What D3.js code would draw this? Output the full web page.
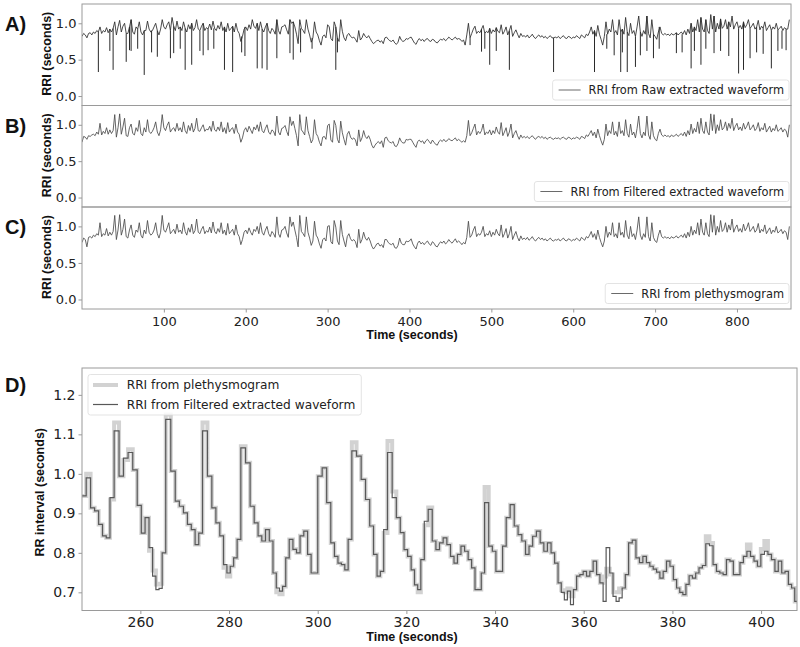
<!DOCTYPE html>
<html><head><meta charset="utf-8">
<script src="https://cdn.jsdelivr.net/npm/d3@7"></script>
<style>body{margin:0;background:#fff} svg{display:block}</style>
</head><body>
<svg id="chart" width="800" height="647"></svg>
<script>
// ---------------- DATA ----------------
// Panels A–C: RRI sampled every 2 s from t = 0 s
const overviewStep = 2;
const rriRaw = [
0.82,0.86,0.84,0.80,0.86,0.87,0.84,0.88,0.86,0.90,
0.88,0.95,0.86,0.90,0.88,0.94,0.87,0.92,0.88,0.93,
1.02,0.84,0.95,1.04,0.88,0.96,1.00,0.86,0.86,0.95,
1.05,0.88,0.85,0.95,0.92,1.02,0.88,0.84,0.90,0.90,
1.03,0.92,0.88,0.90,0.95,1.00,0.90,0.84,0.92,1.05,
0.95,0.92,0.98,1.02,0.90,1.08,0.96,0.90,1.03,0.92,
0.95,0.90,1.02,0.93,0.88,0.98,0.92,1.00,0.90,0.94,
1.05,0.92,0.90,0.96,1.00,0.90,0.94,0.92,0.99,0.91,
1.03,0.93,0.90,0.97,0.92,1.02,0.90,0.95,0.88,1.00,
0.90,0.93,0.96,0.88,1.00,0.90,0.86,0.75,0.82,0.92,
0.95,0.90,0.98,0.92,1.05,0.96,0.93,1.00,0.90,1.02,
0.92,0.88,0.95,1.00,0.90,0.86,0.93,0.90,0.85,1.05,
0.90,0.85,0.95,0.96,0.98,0.91,0.85,1.05,1.00,1.02,
0.95,0.85,0.72,1.05,0.93,0.90,0.86,1.05,0.92,0.84,
0.74,0.80,1.02,0.88,0.84,0.76,0.70,0.82,0.84,0.80,
0.98,0.95,0.79,0.76,1.02,0.95,0.80,0.75,1.05,0.89,
0.80,0.76,0.84,0.86,0.82,0.80,0.81,0.78,0.74,0.90,
0.77,0.80,0.86,0.82,0.80,0.83,0.79,0.75,0.72,0.74,
0.76,0.77,0.74,0.76,0.72,0.80,0.81,0.78,0.76,0.75,
0.77,0.73,0.71,0.74,0.82,0.77,0.75,0.76,0.79,0.78,
0.80,0.81,0.77,0.73,0.71,0.76,0.79,0.76,0.78,0.75,
0.78,0.79,0.76,0.75,0.78,0.77,0.74,0.73,0.76,0.78,
0.77,0.79,0.76,0.78,0.81,0.79,0.77,0.79,0.81,0.78,
0.79,0.78,0.75,0.77,0.70,0.84,1.00,0.80,0.86,0.92,
0.96,0.86,0.89,0.87,0.92,0.97,0.86,0.89,0.87,0.93,
0.86,0.91,0.88,0.94,0.89,0.87,0.98,0.85,0.89,0.95,
0.84,0.90,0.97,0.82,0.87,0.91,0.85,0.80,0.86,0.82,
0.83,0.81,0.84,0.80,0.82,0.85,0.81,0.79,0.82,0.84,
0.81,0.83,0.80,0.82,0.79,0.81,0.83,0.80,0.80,0.81,
0.80,0.82,0.79,0.81,0.83,0.80,0.79,0.82,0.81,0.79,
0.81,0.80,0.83,0.81,0.79,0.84,0.82,0.80,0.85,0.83,
0.88,0.95,0.85,0.90,0.82,0.97,0.85,0.78,0.70,0.82,
1.02,0.85,0.92,0.88,1.05,0.86,0.90,0.84,1.05,0.88,
0.92,0.85,1.08,0.88,0.83,1.00,0.86,0.90,0.82,0.95,
1.10,0.88,0.82,0.90,0.85,1.10,0.86,0.80,1.05,0.85,
0.82,0.78,0.88,0.95,0.86,0.84,0.86,0.84,0.85,0.83,
0.86,0.84,0.85,0.87,0.84,0.86,0.88,0.85,0.90,0.84,
0.92,0.86,1.00,0.88,0.95,0.90,1.05,0.88,1.08,0.92,
0.88,1.05,0.90,0.86,1.12,0.92,1.10,0.88,1.00,0.92,
1.06,0.93,0.96,1.05,0.92,1.02,0.95,1.10,0.92,0.98,
1.02,0.93,0.97,0.92,1.02,0.94,0.98,1.05,0.93,0.96,
1.00,0.92,0.95,1.04,0.91,0.96,0.93,1.02,0.90,0.94,
0.98,0.90,0.95,0.92,1.00,0.91,0.93,0.96,0.90,0.94,
0.92,0.92,1.05];
// single-beat artefacts in the raw extracted waveform: [time (s), RRI (s)]
const rawArtifactTimes = [20,34,38,54,58,60,68,76,85,92,108,112,120,126,134,144,148,154,161,174,184,195,199,214,220,226,238,254,258,267,281,310,312,
  474,488,492,498,506,522,576,626,641,650,658,660,666,676,682,690,698,705,726,733,744,748,756,762,772,780,790,802,808,816,824,832,842,850,855,860];
const rawArtifactValues = [0.33,0.62,0.36,0.47,0.63,0.62,0.65,0.29,0.60,0.54,0.52,0.59,0.65,0.36,0.43,0.62,0.56,0.63,0.65,0.36,0.33,0.60,0.55,0.38,0.38,0.36,0.52,0.59,0.50,0.60,0.65,0.36,0.60,
  0.70,0.61,0.65,0.43,0.62,0.36,0.33,0.33,0.65,0.56,0.33,0.60,0.33,0.40,0.56,0.62,0.52,0.65,0.59,0.60,0.38,0.62,0.43,0.65,0.59,0.62,0.55,0.31,0.36,0.52,0.60,0.58,0.38,0.62,0.65,0.63];
const rriFiltered = [
0.76,0.84,0.83,0.80,0.85,0.84,0.86,0.87,0.85,0.90,
0.87,1.02,0.86,0.91,0.88,0.96,0.87,0.93,0.88,0.92,
1.14,0.83,0.96,1.15,0.87,0.97,1.09,0.85,0.84,0.96,
1.01,0.88,0.86,0.96,0.91,1.06,0.88,0.85,0.96,0.90,
1.07,0.91,0.88,0.91,0.96,1.04,0.90,0.85,0.93,1.14,
0.96,0.92,0.99,1.04,0.90,0.94,0.96,0.91,1.02,0.92,
0.96,0.90,1.04,0.92,0.88,0.99,0.92,1.02,0.90,0.95,
1.09,0.92,0.91,0.96,1.00,0.91,0.94,0.93,0.98,0.91,
1.05,0.93,0.91,0.97,0.92,1.04,0.90,0.96,0.88,1.03,
0.90,0.94,0.96,0.88,1.01,0.90,0.87,0.76,0.82,0.92,
0.96,0.90,0.98,0.93,0.88,0.97,0.93,1.00,0.91,1.04,
0.92,0.89,0.95,1.00,0.90,0.87,0.93,0.91,0.85,1.12,
0.90,0.86,0.95,0.96,0.99,0.91,0.85,1.11,0.99,1.05,
0.95,0.85,0.71,1.14,0.93,0.90,0.86,1.11,0.92,0.84,
0.75,0.80,1.07,0.88,0.84,0.76,0.71,0.83,0.84,0.80,
0.99,1.01,0.79,0.76,1.06,0.99,0.80,0.75,1.05,0.89,
0.80,0.72,0.87,0.91,0.83,0.80,0.82,0.79,0.71,0.93,
0.77,0.82,0.92,0.84,0.81,0.85,0.80,0.72,0.68,0.72,
0.75,0.77,0.74,0.78,0.69,0.82,0.83,0.78,0.76,0.75,
0.77,0.71,0.70,0.74,0.82,0.77,0.75,0.75,0.80,0.79,
0.80,0.80,0.76,0.72,0.69,0.77,0.79,0.76,0.78,0.74,
0.78,0.80,0.77,0.74,0.79,0.76,0.73,0.72,0.77,0.79,
0.77,0.80,0.77,0.78,0.81,0.79,0.78,0.80,0.82,0.78,
0.80,0.78,0.76,0.78,0.76,0.85,1.06,0.85,0.89,0.95,
1.01,0.86,0.91,0.88,0.92,1.01,0.86,0.90,0.88,0.93,
0.86,0.92,0.88,0.97,0.90,0.87,1.03,0.85,0.90,0.96,
0.84,0.90,1.01,0.82,0.88,0.92,0.85,0.80,0.86,0.82,
0.84,0.82,0.84,0.81,0.83,0.85,0.82,0.80,0.83,0.84,
0.82,0.84,0.81,0.83,0.80,0.82,0.83,0.81,0.80,0.82,
0.81,0.82,0.80,0.82,0.83,0.81,0.80,0.83,0.82,0.80,
0.82,0.81,0.83,0.82,0.80,0.84,0.83,0.81,0.86,0.84,
0.88,0.92,0.85,0.90,0.82,0.94,0.85,0.78,0.72,0.80,
1.01,0.85,0.92,0.88,1.04,0.86,0.91,0.84,1.04,0.88,
0.92,0.85,1.07,0.88,0.83,1.01,0.86,0.90,0.82,0.95,
1.12,0.88,0.82,0.90,0.85,1.12,0.86,0.80,1.04,0.85,
0.80,0.78,0.88,0.94,0.86,0.84,0.86,0.84,0.85,0.83,
0.86,0.84,0.85,0.87,0.84,0.86,0.88,0.85,0.90,0.84,
0.92,0.86,1.01,0.88,0.95,0.90,1.04,0.88,1.09,0.92,
0.88,1.04,0.90,0.86,1.15,0.92,1.14,0.88,1.00,0.92,
1.07,0.93,0.96,1.04,0.92,1.02,0.95,1.09,0.92,0.98,
1.02,0.93,0.97,0.92,1.02,0.94,0.98,1.04,0.93,0.96,
1.00,0.92,0.95,1.03,0.91,0.96,0.93,1.02,0.90,0.94,
0.98,0.90,0.95,0.92,1.00,0.91,0.93,0.96,0.90,0.94,
0.92,0.83,1.00];
const rriPleth = [
0.78,0.84,0.82,0.72,0.85,0.86,0.84,0.88,0.86,0.90,
0.88,1.05,0.86,0.90,0.88,0.97,0.87,0.92,0.88,0.93,
1.15,0.82,0.95,1.16,0.88,0.96,1.10,0.86,0.84,0.95,
1.02,0.88,0.85,0.95,0.92,1.05,0.88,0.84,0.95,0.90,
1.08,0.92,0.88,0.90,0.95,1.05,0.90,0.84,0.92,1.15,
0.95,0.92,0.98,1.05,0.90,0.93,0.96,0.90,1.03,0.92,
0.95,0.90,1.05,0.93,0.88,0.98,0.92,1.03,0.90,0.94,
1.10,0.92,0.90,0.96,1.00,0.90,0.94,0.92,0.99,0.91,
1.06,0.93,0.90,0.97,0.92,1.05,0.90,0.95,0.88,1.04,
0.90,0.93,0.96,0.88,1.02,0.90,0.86,0.75,0.82,0.92,
0.95,0.90,0.98,0.92,0.88,0.96,0.93,1.00,0.90,1.05,
0.92,0.88,0.95,1.00,0.90,0.86,0.93,0.90,0.85,1.13,
0.90,0.85,0.95,0.96,1.00,0.91,0.85,1.13,1.00,1.06,
0.95,0.85,0.72,1.15,0.93,0.90,0.86,1.13,0.92,0.84,
0.74,0.80,1.07,0.88,0.84,0.76,0.70,0.82,0.84,0.80,
1.00,1.01,0.79,0.76,1.08,0.99,0.80,0.75,1.08,0.89,
0.80,0.72,0.86,0.90,0.83,0.80,0.82,0.79,0.71,0.96,
0.77,0.82,0.92,0.84,0.81,0.85,0.80,0.73,0.69,0.72,
0.76,0.77,0.73,0.75,0.71,0.82,0.82,0.78,0.76,0.75,
0.77,0.71,0.70,0.74,0.84,0.77,0.75,0.75,0.80,0.79,
0.80,0.83,0.76,0.72,0.69,0.77,0.80,0.76,0.78,0.75,
0.78,0.80,0.76,0.74,0.79,0.77,0.73,0.72,0.76,0.79,
0.77,0.80,0.76,0.78,0.82,0.79,0.77,0.80,0.83,0.78,
0.80,0.78,0.75,0.78,0.76,0.85,1.07,0.85,0.88,0.95,
1.00,0.86,0.90,0.88,0.92,1.00,0.86,0.90,0.88,0.94,
0.86,0.92,0.88,0.96,0.90,0.87,1.02,0.85,0.90,0.97,
0.84,0.90,1.00,0.82,0.88,0.93,0.85,0.80,0.87,0.82,
0.84,0.82,0.85,0.81,0.83,0.86,0.82,0.80,0.83,0.85,
0.82,0.84,0.81,0.83,0.80,0.82,0.84,0.81,0.80,0.82,
0.81,0.83,0.80,0.82,0.84,0.81,0.80,0.83,0.82,0.80,
0.82,0.81,0.84,0.82,0.80,0.85,0.83,0.81,0.86,0.84,
0.88,0.93,0.85,0.90,0.82,0.95,0.85,0.78,0.72,0.80,
1.00,0.85,0.92,0.88,1.05,0.86,0.90,0.84,1.05,0.88,
0.92,0.85,1.08,0.88,0.83,1.00,0.86,0.90,0.82,0.95,
1.13,0.88,0.82,0.90,0.85,1.13,0.86,0.80,1.05,0.85,
0.80,0.78,0.88,0.95,0.86,0.84,0.86,0.84,0.85,0.83,
0.86,0.84,0.85,0.87,0.84,0.86,0.88,0.85,0.90,0.84,
0.92,0.86,1.00,0.88,0.95,0.90,1.05,0.88,1.10,0.92,
0.88,1.05,0.90,0.86,1.16,0.92,1.15,0.88,1.00,0.92,
1.08,0.93,0.96,1.05,0.92,1.02,0.95,1.10,0.92,0.98,
1.02,0.93,0.97,0.92,1.03,0.94,0.98,1.05,0.93,0.96,
1.00,0.92,0.95,1.04,0.91,0.96,0.93,1.02,0.90,0.94,
0.98,0.90,0.95,0.92,1.00,0.91,0.93,0.96,0.90,0.94,
0.92,0.82,1.00];
const overviewXTicks = [100,200,300,400,500,600,700,800];
const overviewYTicks = [0.0,0.5,1.0];

// Panel D: beat-by-beat RR intervals, first beat at 246.84 s
const zoomStart = 246.84;
const zoomFiltered = [
0.944,0.990,0.914,0.906,0.872,0.843,0.838,0.940,1.109,0.994,
1.040,1.054,1.010,0.920,0.850,0.889,0.813,0.741,0.707,0.710,
0.800,1.138,1.007,0.931,0.918,0.901,0.872,0.859,0.821,0.850,
1.109,0.994,0.914,0.876,0.843,0.770,0.749,0.766,0.787,0.834,
1.066,1.028,0.918,0.876,0.843,0.830,0.859,0.830,0.749,0.711,
0.703,0.715,0.787,0.834,0.809,0.800,0.843,0.855,0.796,0.749,
0.749,0.994,1.015,
0.927,0.825,0.791,0.774,0.770,0.757,0.834,1.058,1.045,0.986,
0.935,0.868,0.796,0.741,0.753,0.859,1.054,0.940,0.889,0.851,
0.808,0.791,0.757,0.719,0.707,0.783,0.880,0.910,0.830,0.808,
0.825,0.838,0.821,0.791,0.774,0.796,0.817,0.804,0.783,0.762,
0.707,0.707,0.749,0.927,0.817,0.804,0.753,0.753,0.817,0.889,
0.922,0.868,0.846,0.830,0.796,0.817,0.842,0.855,0.825,0.804,
0.825,0.800,0.774,
0.724,0.700,0.681,0.703,0.669,0.707,0.741,0.745,0.753,0.741,
0.753,0.779,0.745,0.724,0.677,0.813,0.749,0.690,0.677,
0.686,0.711,0.745,0.825,0.832,0.787,0.775,0.791,0.775,0.766,
0.759,0.751,0.736,0.753,0.779,0.766,0.732,0.711,0.700,0.694,
0.720,0.742,0.736,0.749,0.762,0.768,0.823,0.818,0.770,0.753,
0.749,0.745,0.783,0.779,0.745,0.745,0.775,0.791,0.804,0.791,
0.779,0.766,0.796,0.804,0.796,0.783,0.753,0.779,0.749,0.753,
0.720,0.711,0.677,0.690];
const zoomPleth = [
0.944,1.000,0.914,0.906,0.872,0.843,0.838,0.935,1.130,0.994,
1.035,1.062,1.010,0.920,0.850,0.889,0.805,0.755,0.720,0.722,
0.800,1.150,1.007,0.931,0.918,0.901,0.872,0.859,0.821,0.850,
1.130,0.994,0.914,0.876,0.843,0.762,0.740,0.766,0.787,0.834,
1.070,1.028,0.918,0.876,0.843,0.830,0.859,0.830,0.749,0.700,
0.695,0.715,0.787,0.834,0.809,0.800,0.843,0.855,0.796,0.749,
0.749,0.994,1.015,
0.927,0.825,0.791,0.774,0.770,0.757,0.834,1.080,1.045,0.986,
0.935,0.868,0.796,0.741,0.753,0.850,1.083,0.955,0.889,0.851,
0.808,0.791,0.757,0.719,0.700,0.783,0.870,0.915,0.830,0.808,
0.825,0.838,0.821,0.791,0.774,0.796,0.817,0.804,0.783,0.762,
0.707,0.707,0.749,0.967,0.817,0.804,0.753,0.753,0.817,0.889,
0.922,0.868,0.846,0.830,0.796,0.817,0.842,0.855,0.825,0.804,
0.825,0.800,0.774,
0.724,0.705,0.700,0.710,0.690,0.707,0.741,0.745,0.753,0.741,
0.753,0.779,0.745,0.724,0.740,0.760,0.745,0.700,0.700,
0.710,0.711,0.745,0.825,0.832,0.787,0.775,0.791,0.775,0.766,
0.759,0.751,0.736,0.753,0.779,0.766,0.732,0.711,0.700,0.694,
0.720,0.742,0.736,0.749,0.762,0.768,0.842,0.825,0.770,0.753,
0.749,0.745,0.783,0.779,0.745,0.745,0.775,0.791,0.821,0.791,
0.779,0.766,0.810,0.830,0.796,0.783,0.753,0.779,0.749,0.753,
0.720,0.711,0.677,0.690];
const zoomXTicks = [260,280,300,320,340,360,380,400];
const zoomYTicks = [0.7,0.8,0.9,1.0,1.1,1.2];

// ---------------- DRAW ----------------
const svg = d3.select('#chart');
const TICK_FONT = 'DejaVu Sans, sans-serif';
const LABEL_FONT = 'Liberation Sans, Arial, sans-serif';
const frameColor = '#9a9a9a';

const ovLeft = 82, ovRight = 791;
const overviewTimes = rriRaw.map((_, i) => i * overviewStep);
const xOv = d3.scaleLinear().domain([0, 866]).range([ovLeft, ovRight]);

const panels = [
  {label:'A)', top:4, bottom:105.5, data:rriRaw, name:'RRI from Raw extracted waveform', stroke:'#2a2a2a', sw:0.85, artifacts:true},
  {label:'B)', top:105.5, bottom:207, data:rriFiltered, name:'RRI from Filtered extracted waveform', stroke:'#4a4a4a', sw:0.85},
  {label:'C)', top:207, bottom:309, data:rriPleth, name:'RRI from plethysmogram', stroke:'#4a4a4a', sw:0.85}
];

svg.append('defs');

panels.forEach((p, k) => {
  const y = d3.scaleLinear().domain([-0.13, 1.265]).range([p.bottom, p.top]);
  const g = svg.append('g');
  const clipId = 'clipOv' + k;
  svg.select('defs').append('clipPath').attr('id', clipId)
    .append('rect').attr('x', ovLeft).attr('y', p.top).attr('width', ovRight - ovLeft).attr('height', p.bottom - p.top);

  const line = d3.line().x((d, i) => xOv(overviewTimes[i])).y(d => y(d));
  g.append('path').datum(p.data).attr('d', line)
    .attr('fill', 'none').attr('stroke', p.stroke).attr('stroke-width', p.sw)
    .attr('stroke-linejoin', 'round').attr('clip-path', `url(#${clipId})`);

  if (p.artifacts) {
    // each artefact beat drops from the surrounding RRI level to its own value
    const segs = rawArtifactTimes.map((t, j) => {
      const base = p.data[Math.round(t / overviewStep)];
      return `M${xOv(t)},${y(base)}V${y(rawArtifactValues[j])}`;
    }).join('');
    g.append('path').attr('d', segs).attr('fill', 'none').attr('stroke', p.stroke)
      .attr('stroke-width', 1).attr('clip-path', `url(#${clipId})`);
  }

  // y axis
  const ya = g.append('g').attr('transform', `translate(${ovLeft},0)`)
    .call(d3.axisLeft(y).tickValues(overviewYTicks).tickFormat(d3.format('.1f')).tickSize(3.5).tickPadding(2));
  ya.select('.domain').remove();
  ya.selectAll('line').attr('stroke', frameColor);
  ya.selectAll('text').attr('font-family', TICK_FONT).attr('font-size', 13).attr('fill', '#222');

  // frame
  g.append('rect').attr('x', ovLeft).attr('y', p.top).attr('width', ovRight - ovLeft).attr('height', p.bottom - p.top)
    .attr('fill', 'none').attr('stroke', frameColor).attr('stroke-width', 1);

  // y label
  g.append('text').attr('transform', `translate(47,${(p.top + p.bottom) / 2 - 1}) rotate(-90)`)
    .attr('text-anchor', 'middle').attr('dominant-baseline', 'central')
    .attr('font-family', LABEL_FONT).attr('font-weight', 'bold').attr('font-size', 12.5).attr('fill', '#111')
    .text('RRI (seconds)');

  // panel label
  g.append('text').attr('x', 5).attr('y', p.top + 27).attr('font-family', LABEL_FONT)
    .attr('font-weight', 'bold').attr('font-size', 20).attr('fill', '#111').text(p.label);

  // legend (lower right)
  const lg = g.append('g');
  const txt = lg.append('text').attr('font-family', TICK_FONT).attr('font-size', 11.4).attr('fill', '#222')
    .attr('dominant-baseline', 'central').text(p.name);
  const tw = txt.node().getComputedTextLength();
  const boxR = ovRight - 2, boxB = p.bottom - 5.5, boxH = 20;
  const boxW = 6 + 22 + 8 + tw + 5;
  const boxL = boxR - boxW;
  lg.insert('rect', 'text').attr('x', boxL).attr('y', boxB - boxH).attr('width', boxW).attr('height', boxH)
    .attr('rx', 2.5).attr('fill', '#fff').attr('fill-opacity', 0.85).attr('stroke', '#dcdcdc').attr('stroke-width', 0.8);
  lg.append('line').attr('x1', boxL + 6).attr('x2', boxL + 28).attr('y1', boxB - boxH / 2).attr('y2', boxB - boxH / 2)
    .attr('stroke', '#6a6a6a').attr('stroke-width', 1);
  txt.attr('x', boxL + 36).attr('y', boxB - boxH / 2);
});

// shared x axis under C
const xa = svg.append('g').attr('transform', `translate(0,309)`)
  .call(d3.axisBottom(xOv).tickValues(overviewXTicks).tickFormat(d3.format('d')).tickSize(3.5).tickPadding(4.5));
xa.select('.domain').remove();
xa.selectAll('line').attr('stroke', frameColor);
xa.selectAll('text').attr('font-family', TICK_FONT).attr('font-size', 13).attr('fill', '#222');
svg.append('text').attr('x', 412).attr('y', 335).attr('text-anchor', 'middle').attr('dominant-baseline', 'central')
  .attr('font-family', LABEL_FONT).attr('font-weight', 'bold').attr('font-size', 12.5).attr('fill', '#111')
  .text('Time (seconds)');

// ---------------- PANEL D ----------------
const dL = 82, dR = 797, dT = 368, dB = 610.5;
const xD = d3.scaleLinear().domain([246.84, 408.1]).range([dL, dR]);
const yD = d3.scaleLinear().domain([0.654, 1.268]).range([dB, dT]);
const beatTimes = [zoomStart, ...d3.cumsum(zoomFiltered).map(s => zoomStart + s)];
const stepPts = arr => arr.map((v, i) => [beatTimes[i], v]).concat([[beatTimes[arr.length], arr[arr.length - 1]]]);

svg.select('defs').append('clipPath').attr('id', 'clipD')
  .append('rect').attr('x', dL).attr('y', dT).attr('width', dR - dL).attr('height', dB - dT);
const stepLine = d3.line().curve(d3.curveStepAfter).x(d => xD(d[0])).y(d => yD(d[1]));
const gD = svg.append('g');
gD.append('path').datum(stepPts(zoomPleth)).attr('d', stepLine).attr('fill', 'none')
  .attr('stroke', '#d2d2d2').attr('stroke-width', 4).attr('clip-path', 'url(#clipD)');
gD.append('path').datum(stepPts(zoomFiltered)).attr('d', stepLine).attr('fill', 'none')
  .attr('stroke', '#585858').attr('stroke-width', 1.2).attr('clip-path', 'url(#clipD)');

const xaD = gD.append('g').attr('transform', `translate(0,${dB})`)
  .call(d3.axisBottom(xD).tickValues(zoomXTicks).tickFormat(d3.format('d')).tickSize(3.5).tickPadding(3.5));
xaD.select('.domain').remove();
xaD.selectAll('line').attr('stroke', frameColor);
xaD.selectAll('text').attr('font-family', TICK_FONT).attr('font-size', 14).attr('fill', '#222');
const yaD = gD.append('g').attr('transform', `translate(${dL},0)`)
  .call(d3.axisLeft(yD).tickValues(zoomYTicks).tickFormat(d3.format('.1f')).tickSize(3.5).tickPadding(3));
yaD.select('.domain').remove();
yaD.selectAll('line').attr('stroke', frameColor);
yaD.selectAll('text').attr('font-family', TICK_FONT).attr('font-size', 14).attr('fill', '#222');

gD.append('rect').attr('x', dL).attr('y', dT).attr('width', dR - dL).attr('height', dB - dT)
  .attr('fill', 'none').attr('stroke', frameColor).attr('stroke-width', 1);

svg.append('text').attr('x', 412).attr('y', 637).attr('text-anchor', 'middle').attr('dominant-baseline', 'central')
  .attr('font-family', LABEL_FONT).attr('font-weight', 'bold').attr('font-size', 12.5).attr('fill', '#111')
  .text('Time (seconds)');
svg.append('text').attr('transform', `translate(40,${(dT + dB) / 2 + 3}) rotate(-90)`)
  .attr('text-anchor', 'middle').attr('dominant-baseline', 'central')
  .attr('font-family', LABEL_FONT).attr('font-weight', 'bold').attr('font-size', 12.5).attr('fill', '#111')
  .text('RR interval (seconds)');
svg.append('text').attr('x', 5).attr('y', 392).attr('font-family', LABEL_FONT)
  .attr('font-weight', 'bold').attr('font-size', 20).attr('fill', '#111').text('D)');

// legend D (upper left)
const lgD = svg.append('g');
const legItems = [
  {name:'RRI from plethysmogram', stroke:'#d2d2d2', sw:4},
  {name:'RRI from Filtered extracted waveform', stroke:'#585858', sw:1.2}
];
const lgBox = lgD.append('rect');
let maxW = 0;
legItems.forEach((it, i) => {
  const yy = 385 + i * 19.5;
  lgD.append('line').attr('x1', 93).attr('x2', 118).attr('y1', yy).attr('y2', yy)
    .attr('stroke', it.stroke).attr('stroke-width', it.sw);
  const t = lgD.append('text').attr('x', 126.7).attr('y', yy).attr('dominant-baseline', 'central')
    .attr('font-family', TICK_FONT).attr('font-size', 12.2).attr('fill', '#222').text(it.name);
  maxW = Math.max(maxW, t.node().getComputedTextLength());
});
lgBox.attr('x', 88).attr('y', 374.5).attr('width', 126.7 - 88 + maxW + 6).attr('height', 40.5)
  .attr('rx', 2.5).attr('fill', '#fff').attr('fill-opacity', 0.85).attr('stroke', '#dcdcdc').attr('stroke-width', 0.8);
</script>
</body></html>
